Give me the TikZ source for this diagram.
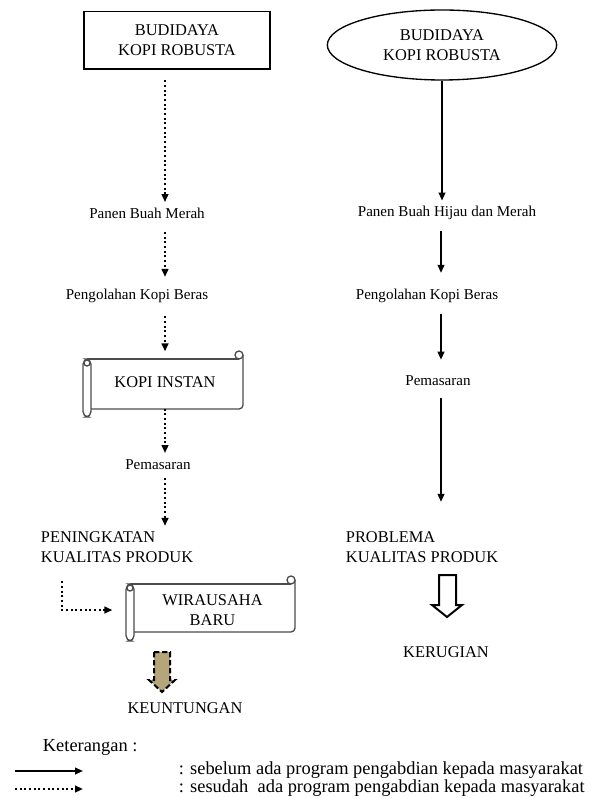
\documentclass[tikz,border=0pt]{standalone}
\usepackage{fontspec}
\setmainfont{Liberation Serif}
\usetikzlibrary{arrows.meta, shapes.geometric, positioning}

\definecolor{khaki}{RGB}{180,166,122}

\tikzset{
  before/.style={line width=1.3pt, -{Triangle[length=6pt,width=5pt]}},
  after/.style={line width=1.5pt, dotted, -{Triangle[length=6pt,width=5pt]}},
  step text/.style={font=\fontsize{11.3}{13}\selectfont, inner sep=2pt},
  caps/.style={font=\fontsize{12.3}{15}\selectfont, align=center, inner sep=2pt},
  legend text/.style={font=\fontsize{13.8}{15}\selectfont, inner sep=2pt, anchor=west},
  scroll/.style={draw=black!70, line width=1pt},
}

\begin{document}
\begin{tikzpicture}[x=0.75pt, y=-0.75pt]
  \path[use as bounding box] (0,0) rectangle (594,798);

  % Columns
  \coordinate (lc) at (165,0);
  \coordinate (rc) at (441,0);
  \coordinate (el) at (62,0);

  % Scrolls
  \draw[scroll] (87,359) -- (239,359);
  \draw[scroll, rounded corners=3] (243,355) -- (243,409) -- (91,409);
  \draw[scroll] (239,355) circle (4);
  \draw[scroll, fill=white, rounded corners=4] (83,359) rectangle (91,417);
  \draw[scroll] (87,363) circle (3);

  \draw[scroll] (130,584) -- (291,584);
  \draw[scroll, rounded corners=3] (295,580) -- (295,632) -- (134,632);
  \draw[scroll] (291,580) circle (4);
  \draw[scroll, fill=white, rounded corners=4] (126,584) rectangle (134,641);
  \draw[scroll] (130,588) circle (3);

  % Nodes
  \node[draw, line width=1pt, minimum width=139.5pt, minimum height=43pt, caps] (budL) at (177,40.5) {BUDIDAYA\\KOPI ROBUSTA};
  \node[draw, ellipse, line width=1pt, minimum width=172pt, minimum height=52.5pt, caps] (budR) at (442,45) {BUDIDAYA\\KOPI ROBUSTA};

  \node[step text] (panenL) at (147,213) {Panen Buah Merah};
  \node[step text] (panenR) at (447,213) {Panen Buah Hijau dan Merah};
  \node[step text] (olahL) at (137,296) {Pengolahan Kopi Beras};
  \node[step text] (olahR) at (427,296) {Pengolahan Kopi Beras};
  \node[caps, minimum width=117pt, minimum height=37.5pt] (kopi) at (165,382) {KOPI INSTAN};
  \node[step text] (pasarR) at (438,381) {Pemasaran};
  \node[step text] (pasarL) at (158,465) {Pemasaran};
  \node[caps, align=left, anchor=west] (naik) at (38,547) {PENINGKATAN\\KUALITAS PRODUK};
  \node[caps, align=left, anchor=west] (masalah) at (343,547) {PROBLEMA\\KUALITAS PRODUK};
  \node[caps, minimum width=123.75pt, minimum height=36pt] (wira) at (212.5,610) {WIRAUSAHA\\BARU};
  \node[caps] (rugi) at (446,652) {KERUGIAN};
  \node[caps] (untung) at (185,708) {KEUNTUNGAN};

  % Block arrows
  \draw[line width=1.5pt, dash pattern=on 4pt off 2pt, fill=khaki] (154,652) -- (170,652) -- (170,680) -- (175,680) -- (162,692) -- (149,680) -- (154,680) -- cycle;
  \draw[line width=1.5pt, fill=white] (439,575) -- (456,575) -- (456,605) -- (462,605) -- (447,617) -- (432,605) -- (439,605) -- cycle;

  % Edges
  \draw[after, shorten <=8pt, shorten >=2pt] (budL.south -| lc) -- (panenL.north -| lc);
  \draw[after, shorten <=8pt, shorten >=7pt] (panenL.south -| lc) -- (olahL.north -| lc);
  \draw[after, shorten <=8pt, shorten >=4pt] (olahL.south -| lc) -- (kopi.north);
  \draw[after, shorten <=1pt, shorten >=3pt] (kopi.south) -- (pasarL.north -| lc);
  \draw[after, shorten <=4pt, shorten >=2pt] (pasarL.south -| lc) -- (naik.north -| lc);
  \draw[after, shorten <=12pt, shorten >=13pt] (naik.south -| el) |- (wira.west);

  \draw[before, shorten >=2pt] (budR.south) -- (budR.south |- panenR.north);
  \draw[before, shorten <=6pt, shorten >=10pt] (panenR.south -| rc) -- (olahR.north -| rc);
  \draw[before, shorten <=6pt, shorten >=10pt] (olahR.south -| rc) -- (pasarR.north -| rc);
  \draw[before, shorten <=7pt, shorten >=20pt] (pasarR.south -| rc) -- (masalah.north -| rc);

  % Legend
  \node[legend text] (ket) at (40,747) {Keterangan :};
  \node[legend text] (ketA) at (176,770) {: sebelum ada program pengabdian kepada masyarakat};
  \node[legend text] (ketB) at (176,788) {: sesudah\ \ ada program pengabdian kepada masyarakat};
  \coordinate (la1) at (15,771);
  \coordinate (la2) at (83,771);
  \coordinate (lb1) at (15,789);
  \coordinate (lb2) at (83,789);
  \draw[before] (la1) -- (la2);
  \draw[after] (lb1) -- (lb2);
\end{tikzpicture}
\end{document}
